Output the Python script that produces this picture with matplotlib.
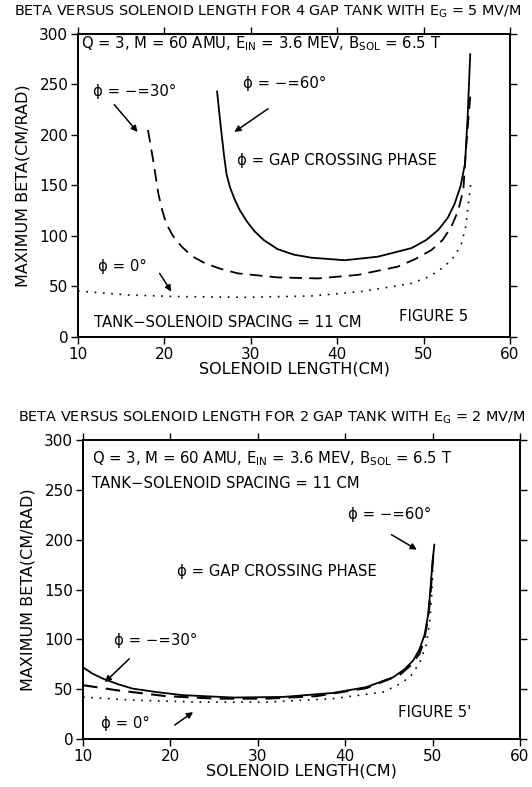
import matplotlib
matplotlib.use("Agg")
import matplotlib.pyplot as plt

# ---- data ----
# 4 gap tank (upper panel)
len_4g_m60 = [26.1, 26.5, 26.9, 27.2, 27.6, 28.1, 28.7, 29.5, 30.4, 31.5, 33.1, 35.0, 37.0, 40.9,
              44.7, 48.6, 50.3, 51.7, 52.8, 53.6, 54.3, 54.8, 55.1, 55.4]
beta_4g_m60 = [243, 210, 180, 161, 148, 137, 126, 115, 105, 96, 87, 81.5, 78.5, 76,
               79.5, 88, 96, 106, 118, 132, 150, 172, 218, 280]

len_4g_m30 = [18.1, 18.7, 19.3, 19.7, 20.2, 21.0, 22.0, 23.2, 24.7, 26.5, 28.5, 33.1, 37.8,
              42.4, 47.0, 49.0, 50.9, 52.2, 53.2, 54.0, 54.6, 54.9, 55.4]
beta_4g_m30 = [205, 175, 142, 127, 112.5, 100, 89.5, 80, 73, 67.5, 63, 59, 58,
               61.5, 69.6, 77, 86, 96, 109, 125, 145.5, 185, 238]

len_4g_0 = [10, 10.8, 15.8, 21.6, 29.3, 37.0, 42.8, 48.6, 50.7, 52.4, 53.6, 54.4, 54.9, 55.1, 55.5]
beta_4g_0 = [45.5, 45, 41.6, 40, 39.3, 40.6, 45, 53, 60, 69.6, 80, 92.8, 110, 126, 155]

# 2 gap tank (lower panel)
len_2g_m60 = [10, 11.0, 12.3, 14.0, 15.7, 18.5, 21.4, 27.2, 32.9, 38.6, 42.4, 45.5, 46.8,
              47.8, 48.5, 49.1, 49.5, 49.7, 50.0, 50.2]
beta_2g_m60 = [72, 66, 60.5, 55, 50.5, 47, 44, 41.6, 42.2, 46.2, 52, 62, 70,
               79, 90, 105, 125, 145, 178, 195]

len_2g_m30 = [10, 13.8, 19.5, 25.3, 31.0, 36.7, 42.4, 46.2, 47.5, 48.5, 49.0, 49.3, 49.6, 49.8, 50.1]
beta_2g_m30 = [54, 49, 43, 40.5, 40.5, 43, 51, 64, 74, 85.5, 98, 112, 130, 150, 188]

len_2g_0 = [10, 15.7, 23.4, 31, 38.6, 44.3, 46.0, 47.4, 48.5, 49.3, 49.7, 49.9, 50.1]
beta_2g_0 = [42, 39, 37, 37, 40.5, 47, 54, 62, 76, 95, 120, 145, 185]

x_ticks = [10, 20, 30, 40, 50, 60]
y_ticks = [0, 50, 100, 150, 200, 250, 300]

plt.rcParams['font.family'] = ['DejaVu Sans']
plt.rcParams['mathtext.default'] = 'regular'

fig = plt.figure(figsize=(5.32, 7.87), dpi=100)
ax1 = fig.add_axes([0.1466, 0.5718, 0.8120, 0.3850])
ax2 = fig.add_axes([0.1560, 0.0610, 0.8214, 0.3799])

params_txt = 'Q = 3, M = 60 AMU, E$_{IN}$ = 3.6 MEV, B$_{SOL}$ = 6.5 T'
dash = (0, (7, 4))
dots = (0, (1, 4))
fs = 10.7


def style_axes(ax):
    ax.set_xlim(10, 60)
    ax.set_ylim(0, 300)
    ax.set_xticks(x_ticks)
    ax.set_yticks(y_ticks)
    ax.tick_params(direction='out', length=5, width=1, labelsize=11,
                   top=True, right=True, pad=2)
    for sp in ax.spines.values():
        sp.set_linewidth(1.4)
    ax.set_xlabel('SOLENOID LENGTH(CM)', fontsize=11.5, labelpad=0)
    ax.set_ylabel('MAXIMUM BETA(CM/RAD)', fontsize=11.5, labelpad=6)


def arrow(ax, start, end):
    ax.annotate('', xy=end, xytext=start,
                arrowprops=dict(arrowstyle='-|>', color='black', lw=1.1,
                                mutation_scale=9, shrinkA=0, shrinkB=0))


# upper panel
ax1.plot(len_4g_m60, beta_4g_m60, color='black', lw=1.3)
ax1.plot(len_4g_m30, beta_4g_m30, color='black', lw=1.3, linestyle=dash)
ax1.plot(len_4g_0, beta_4g_0, color='black', lw=1.2, linestyle=dots)
style_axes(ax1)
ax1.text(10.3, 290, params_txt, fontsize=fs, va='center')
ax1.text(11.7, 243, 'ϕ = −=30°', fontsize=fs, va='center')
ax1.text(29.1, 251, 'ϕ = −=60°', fontsize=fs, va='center')
ax1.text(28.4, 175, 'ϕ = GAP CROSSING PHASE', fontsize=fs, va='center')
ax1.text(12.3, 69.6, 'ϕ = 0°', fontsize=fs, va='center')
ax1.text(11.9, 14, 'TANK−SOLENOID SPACING = 11 CM', fontsize=fs, va='center')
ax1.text(47.2, 20, 'FIGURE 5', fontsize=fs, va='center')
arrow(ax1, (14.2, 230), (16.9, 203))
arrow(ax1, (32.0, 226), (28.1, 203))
arrow(ax1, (19.45, 63), (20.8, 45))

# lower panel
ax2.plot(len_2g_m60, beta_2g_m60, color='black', lw=1.3)
ax2.plot(len_2g_m30, beta_2g_m30, color='black', lw=1.5, linestyle=dash)
ax2.plot(len_2g_0, beta_2g_0, color='black', lw=1.2, linestyle=dots)
style_axes(ax2)
ax2.text(11.0, 281, params_txt, fontsize=fs, va='center')
ax2.text(11.0, 256.5, 'TANK−SOLENOID SPACING = 11 CM', fontsize=fs, va='center')
ax2.text(40.3, 225, 'ϕ = −=60°', fontsize=fs, va='center')
ax2.text(20.7, 168.5, 'ϕ = GAP CROSSING PHASE', fontsize=fs, va='center')
ax2.text(13.6, 99, 'ϕ = −=30°', fontsize=fs, va='center')
ax2.text(12.1, 15.6, 'ϕ = 0°', fontsize=fs, va='center')
ax2.text(46.0, 27, "FIGURE 5'", fontsize=fs, va='center')
arrow(ax2, (45.3, 205), (48.2, 190))
arrow(ax2, (15.3, 80.5), (12.5, 57))
arrow(ax2, (20.5, 14), (22.6, 27))

fig.text(0.503, 0.985, 'BETA VERSUS SOLENOID LENGTH FOR 4 GAP TANK WITH E$_{G}$ = 5 MV/M',
         ha='center', va='center', fontsize=10.4)
fig.text(0.51, 0.469, 'BETA VERSUS SOLENOID LENGTH FOR 2 GAP TANK WITH E$_{G}$ = 2 MV/M',
         ha='center', va='center', fontsize=10.4)

fig.savefig('out.png', dpi=100)
